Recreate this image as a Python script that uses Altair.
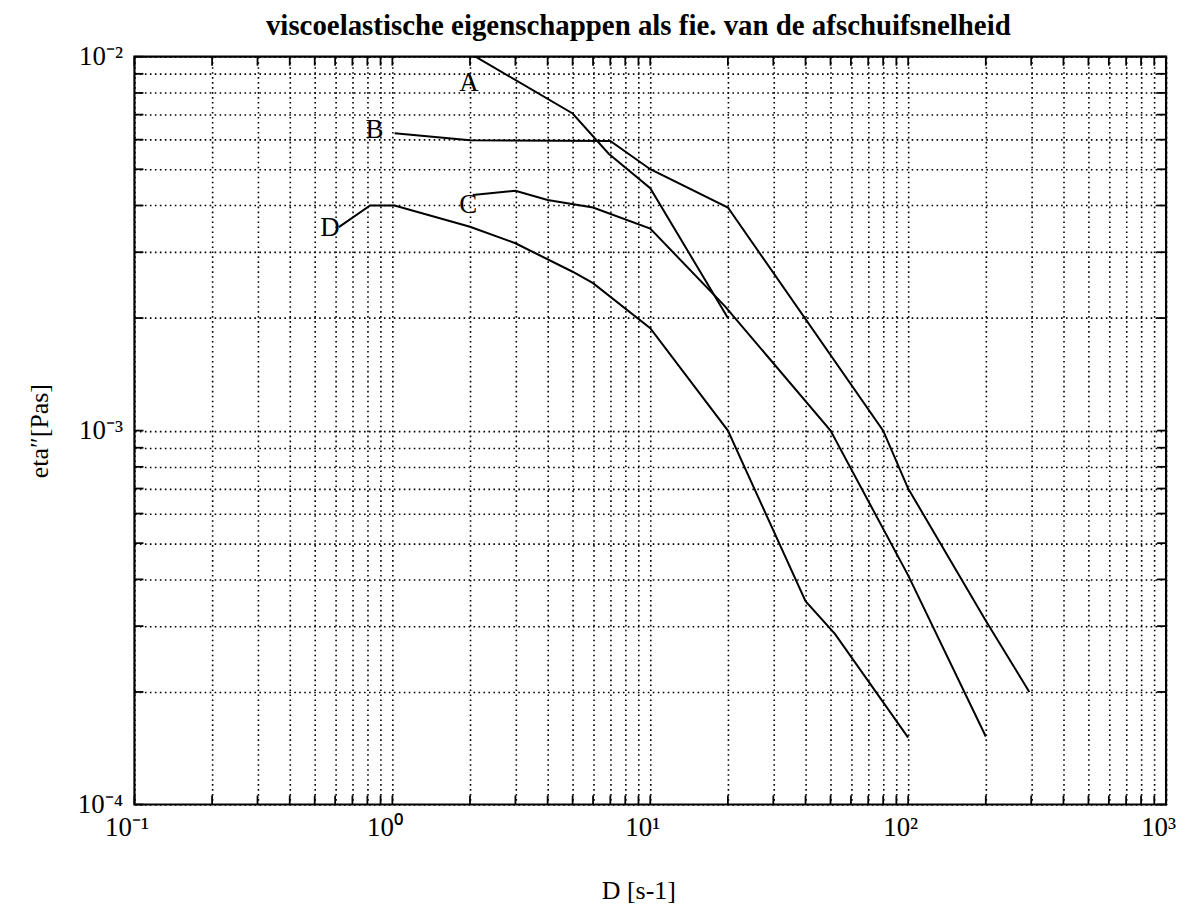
import altair as alt
import pandas as pd

# ---- data (log-log) ----
A_x = [2.1, 5.0, 6.9, 10.0, 20.0]
A_y = [1.0e-2, 7.05e-3, 5.5e-3, 4.45e-3, 2.0e-3]

B_x = [1.02, 2.0, 7.0, 10.0, 20.0, 80.0, 100.0, 200.0, 295.0]
B_y = [6.24e-3, 5.98e-3, 5.95e-3, 5.0e-3, 3.95e-3, 1.0e-3, 7.0e-4, 3.1e-4, 2.0e-4]

C_x = [2.05, 3.0, 4.0, 6.0, 10.0, 19.5, 50.0, 100.0, 200.0]
C_y = [4.27e-3, 4.38e-3, 4.14e-3, 3.95e-3, 3.47e-3, 2.15e-3, 1.0e-3, 4.1e-4, 1.52e-4]

D_x = [0.62, 0.82, 1.02, 2.0, 3.0, 5.0, 6.0, 10.0, 20.0, 40.0, 52.0, 100.0]
D_y = [3.5e-3, 4.0e-3, 4.0e-3, 3.51e-3, 3.17e-3, 2.66e-3, 2.48e-3, 1.88e-3, 1.0e-3, 3.5e-4, 2.86e-4, 1.51e-4]

LABEL_TEXT = ["A", "B", "C", "D"]
LABEL_X = [1.98, 0.853, 1.97, 0.573]
LABEL_Y = [8.5e-3, 6.38e-3, 4.02e-3, 3.49e-3]

X_TICK_VALUES = [0.1, 1.0, 10.0, 100.0, 1000.0]
X_TICK_LABELS = ["10\u207b\u00b9", "10\u2070", "10\u00b9", "10\u00b2", "10\u00b3"]
Y_TICK_VALUES = [1e-4, 1e-3, 1e-2]
Y_TICK_LABELS = ["10\u207b\u2074", "10\u207b\u00b3", "10\u207b\u00b2"]

TITLE = "viscoelastische eigenschappen als fie. van de afschuifsnelheid"
X_TITLE = "D  [s-1]"
Y_TITLE = "eta\u2033[Pas]"

# ---- tables ----
rows = []
for name, xs, ys in [("A", A_x, A_y), ("B", B_x, B_y), ("C", C_x, C_y), ("D", D_x, D_y)]:
    for i, (xv, yv) in enumerate(zip(xs, ys)):
        rows.append({"series": name, "D": xv, "eta": yv, "order": i})
df = pd.DataFrame(rows)
lab_df = pd.DataFrame({"t": LABEL_TEXT, "D": LABEL_X, "eta": LABEL_Y})

x_grid = [float(f"{m}e{e}") for e in range(-1, 3) for m in range(1, 10)] + [1000.0]
y_grid = [float(f"{m}e{e}") for e in (-4, -3) for m in range(1, 10)] + [1e-2]
xg_df = pd.DataFrame({"D": x_grid})
yg_df = pd.DataFrame({"eta": y_grid})


def label_expr(vals, labels):
    expr = "''"
    for v, l in reversed(list(zip(vals, labels))):
        expr = f"abs(datum.value - {v}) < {v * 1e-6} ? '{l}' : " + expr
    return expr


W, H = 1036, 751
FONT = "Liberation Serif"
TL = 9

xscale = alt.Scale(type="log", domain=[0.1, 1000], nice=False)
yscale = alt.Scale(type="log", domain=[1e-4, 1e-2], nice=False)

grid_kw = dict(grid=True, gridDash=[1.6, 3.4], gridColor="black", gridWidth=1.6,
               gridOpacity=1, ticks=False, domain=False, labelOverlap=False,
               labelFont=FONT, labelFontSize=27, labelColor="black",
               titleFont=FONT, titleFontSize=26, titleFontWeight="normal",
               titleColor="black", labelFlush=False, labelBound=False)

x_axis = alt.Axis(values=x_grid, labelExpr=label_expr(X_TICK_VALUES, X_TICK_LABELS),
                  labelPadding=10, labelOffset=-8, title=X_TITLE, titleX=W / 2 - 12,
                  titleY=86, titleBaseline="middle", **grid_kw)
y_axis = alt.Axis(values=y_grid, labelExpr=label_expr(Y_TICK_VALUES, Y_TICK_LABELS),
                  labelPadding=12, title=Y_TITLE, titleX=-95, titleY=H / 2,
                  titleBaseline="middle", titleAngle=-90, titleAlign="center",
                  **grid_kw)

X = alt.X("D:Q", scale=xscale, axis=x_axis)
Y = alt.Y("eta:Q", scale=yscale, axis=y_axis)

lines = alt.Chart(df).mark_line(color="black", strokeWidth=2).encode(
    x=X, y=Y, detail="series:N", order="order:Q")

tick_style = dict(color="black", strokeWidth=1.8)
left_ticks = alt.Chart(yg_df).mark_rule(**tick_style).encode(
    y=Y, x=alt.value(0), x2=alt.value(TL))
right_ticks = alt.Chart(yg_df).mark_rule(**tick_style).encode(
    y=Y, x=alt.value(W - TL), x2=alt.value(W))
bottom_ticks = alt.Chart(xg_df).mark_rule(**tick_style).encode(
    x=X, y=alt.value(H - TL), y2=alt.value(H))
top_ticks = alt.Chart(xg_df).mark_rule(**tick_style).encode(
    x=X, y=alt.value(0), y2=alt.value(TL))

labels = alt.Chart(lab_df).mark_text(font=FONT, fontSize=27, color="black").encode(
    x=X, y=Y, text="t:N")

chart = alt.layer(lines, left_ticks, right_ticks, bottom_ticks, top_ticks, labels).properties(
    width=W, height=H,
    background="white",
    title=alt.TitleParams(TITLE, font=FONT, fontSize=29, fontWeight="bold", anchor="middle",
                          color="black", offset=2, dx=-12),
    autosize=alt.AutoSizeParams(type="none"),
    padding={"left": 127, "top": 47, "right": 16, "bottom": 100},
).configure_view(stroke="black", strokeWidth=2.2)

chart.save("out.html", embed_options={"renderer": "svg", "actions": False})
